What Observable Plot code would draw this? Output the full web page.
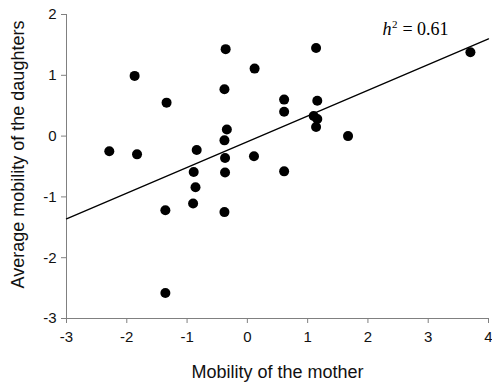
<!DOCTYPE html>
<html>
<head>
<meta charset="utf-8">
<script src="https://cdn.jsdelivr.net/npm/d3@7"></script>
<script src="https://cdn.jsdelivr.net/npm/@observablehq/plot@0.6"></script>
<style>
  html, body { margin: 0; padding: 0; background: #fff; }
</style>
</head>
<body>
<div id="chart"></div>
<script>
const motherMobility = [-2.29, -1.87, -1.83, -1.34, -0.84, -0.89, -0.86, -0.90, -1.36, -1.36,
  -0.36, -0.38, -0.34, -0.38, -0.37, -0.37, -0.38, 0.11, 0.12, 0.61, 0.61, 0.61,
  1.14, 1.16, 1.10, 1.16, 1.14, 1.67, 3.70];
const daughterMobility = [-0.25, 0.99, -0.30, 0.55, -0.23, -0.59, -0.84, -1.11, -1.22, -2.58,
  1.43, 0.77, 0.11, -0.07, -0.36, -0.60, -1.25, -0.33, 1.11, 0.60, 0.40, -0.58,
  1.45, 0.58, 0.33, 0.28, 0.15, 0.00, 1.38];
const fitX = [-3, 4];
const fitY = [-1.36, 1.60];
const xTicks = [-3, -2, -1, 0, 1, 2, 3, 4];
const yTicks = [-3, -2, -1, 0, 1, 2];
const annX = 2.24;
const annY = 1.664;

const points = motherMobility.map((x, i) => ({x, y: daughterMobility[i]}));
const fit = fitX.map((x, i) => ({x, y: fitY[i]}));

const serif = "'Liberation Serif', 'Times New Roman', serif";

const plot = Plot.plot({
  width: 492,
  height: 384,
  marginTop: 14,
  marginRight: 4,
  marginBottom: 66,
  marginLeft: 66,
  style: {fontFamily: "'Liberation Sans', Arial, sans-serif", fontSize: "15px", color: "#111", background: "#fff"},
  x: {domain: [-3, 4]},
  y: {domain: [-3, 2]},
  marks: [
    Plot.axisX({ticks: xTicks, tickSize: 5, tickPadding: 8, stroke: "#808080", fill: "#111", fontSize: 15, label: null, tickFormat: d => String(d)}),
    Plot.axisY({ticks: yTicks, tickSize: 5, tickPadding: 5, stroke: "#808080", fill: "#111", fontSize: 15, label: null, tickFormat: d => String(d)}),
    Plot.ruleX([-3], {stroke: "#808080"}),
    Plot.ruleY([-3], {stroke: "#808080"}),
    Plot.line(fit, {x: "x", y: "y", stroke: "#000", strokeWidth: 1.3}),
    Plot.dot(points, {x: "x", y: "y", r: 5, fill: "#000", stroke: "none"}),
    Plot.text([0], {text: () => "Mobility of the mother", frameAnchor: "bottom", textAnchor: "middle", lineAnchor: "bottom", dy: 59, fontSize: 18, fill: "#111"}),
    Plot.text([0], {text: () => "Average mobility of the daughters", frameAnchor: "left", textAnchor: "middle", lineAnchor: "middle", rotate: -90, dx: -48, dy: -12, fontSize: 18, fill: "#111"}),
    Plot.text([{x: annX, y: annY}], {x: "x", y: "y", text: () => "h", textAnchor: "start", lineAnchor: "bottom", fontFamily: serif, fontStyle: "italic", fontSize: 18, fill: "#000"}),
    Plot.text([{x: annX, y: annY}], {x: "x", y: "y", text: () => "2", textAnchor: "start", lineAnchor: "bottom", dx: 9.5, dy: -7, fontFamily: serif, fontSize: 11, fill: "#000"}),
    Plot.text([{x: annX, y: annY}], {x: "x", y: "y", text: () => "= 0.61", textAnchor: "start", lineAnchor: "bottom", dx: 20, fontFamily: serif, fontSize: 18, fill: "#000"})
  ]
});
document.getElementById("chart").appendChild(plot);
</script>
</body>
</html>
